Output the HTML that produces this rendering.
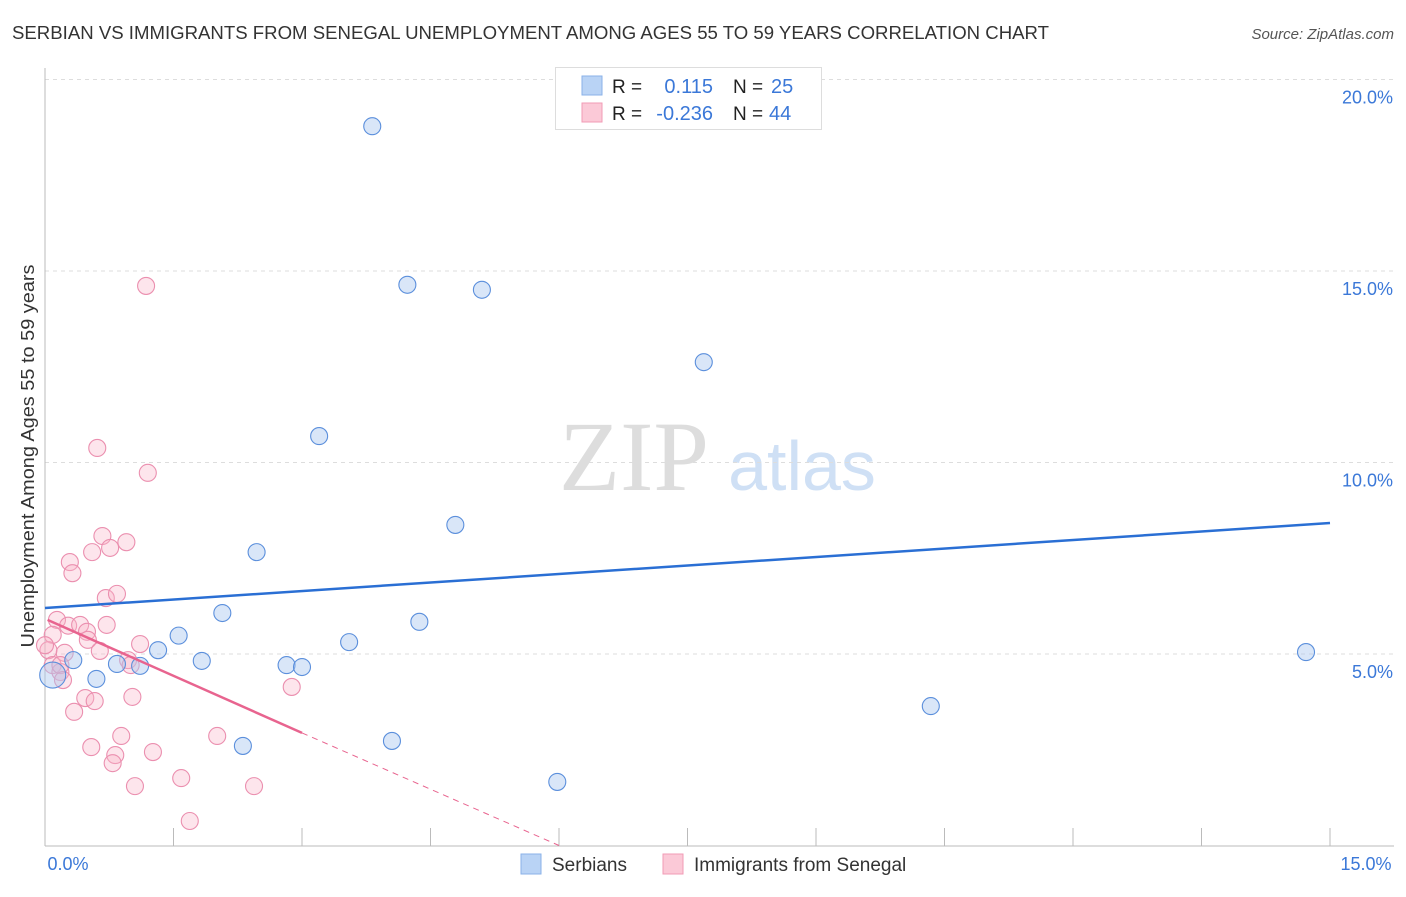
<!DOCTYPE html>
<html><head><meta charset="utf-8"><style>
body{margin:0;background:#fff;font-family:"Liberation Sans",sans-serif}
</style></head><body>
<svg id="c" width="1406" height="892" xmlns="http://www.w3.org/2000/svg">
<text x="12" y="39" font-size="18" fill="#333" textLength="1037" lengthAdjust="spacingAndGlyphs">SERBIAN VS IMMIGRANTS FROM SENEGAL UNEMPLOYMENT AMONG AGES 55 TO 59 YEARS CORRELATION CHART</text>
<text x="1394" y="39" font-size="15" fill="#555" font-style="italic" text-anchor="end">Source: ZipAtlas.com</text>
<text x="634" y="490" font-size="100" fill="#ddd" font-family="Liberation Serif,serif" text-anchor="middle">ZIP</text>
<text x="802" y="490" font-size="70" fill="#cfe0f5" text-anchor="middle">atlas</text>
<text transform="translate(34,456) rotate(-90)" font-size="18" fill="#333" text-anchor="middle" textLength="383" lengthAdjust="spacingAndGlyphs">Unemployment Among Ages 55 to 59 years</text>
<g id="grid"></g><g id="pts"></g><g id="trend"></g>
<g>
<rect x="555.5" y="67.5" width="266" height="62" fill="#fff" stroke="#ddd"/>
<rect x="582" y="76" width="20" height="19" fill="#b9d3f5" stroke="#8ab2e8"/>
<rect x="582" y="103" width="20" height="19" fill="#fbc9d7" stroke="#f19bb5"/>
<text x="612" y="93" font-size="19" fill="#222">R =</text><text x="713" y="93" font-size="20" fill="#3b78d8" text-anchor="end">0.115</text>
<text x="733" y="93" font-size="19" fill="#222">N =</text><text x="771" y="93" font-size="20" fill="#3b78d8">25</text>
<text x="612" y="120" font-size="19" fill="#222">R =</text><text x="713" y="120" font-size="20" fill="#3b78d8" text-anchor="end">-0.236</text>
<text x="733" y="120" font-size="19" fill="#222">N =</text><text x="769" y="120" font-size="20" fill="#3b78d8">44</text>
</g>
<g>
<rect x="521" y="854" width="20" height="20" fill="#b9d3f5" stroke="#8ab2e8"/>
<text x="552" y="871" font-size="19" fill="#333">Serbians</text>
<rect x="663" y="854" width="20" height="20" fill="#fbc9d7" stroke="#f19bb5"/>
<text x="694" y="871" font-size="19" fill="#333">Immigrants from Senegal</text>
</g>
</svg>
<script>
const blueX=[3.82,4.23,5.10,7.69,3.20,4.79,2.47,2.07,4.37,1.56,3.55,1.32,0.33,0.84,1.11,1.83,2.82,3.00,0.60,14.72,10.34,2.31,4.05,5.98,0.09];
const blueY=[18.78,14.64,14.51,12.62,10.69,8.37,7.66,6.07,5.84,5.48,5.31,5.10,4.84,4.74,4.69,4.82,4.71,4.66,4.35,5.05,3.64,2.60,2.73,1.66,4.45];
const pinkX=[1.18,0.61,1.20,0.67,0.95,0.76,0.29,0.55,0.32,0.71,0.84,0.14,0.27,0.41,0.72,0.49,0.09,0.50,1.11,0.64,0.23,0.97,0.04,0.09,0.18,1.00,2.88,0.47,0.58,1.02,0.34,0.89,2.01,0.54,1.26,0.82,0.79,1.59,1.05,2.44,1.69,0.18,0.21,0.0];
const pinkY=[14.61,10.38,9.73,8.08,7.92,7.77,7.40,7.66,7.11,6.46,6.57,5.89,5.74,5.76,5.76,5.58,5.50,5.37,5.26,5.08,5.03,4.84,5.10,4.71,4.53,4.71,4.14,3.85,3.77,3.88,3.49,2.86,2.86,2.57,2.44,2.36,2.15,1.76,1.55,1.55,0.64,4.71,4.32,5.23];
const yTicks=[5,10,15,20];
const yTickLabels=["5.0%","10.0%","15.0%","20.0%"];
const xTicks=[0,1.5,3,4.5,6,7.5,9,10.5,12,13.5,15];
const blueTrend=[[0,6.20],[15,8.42]];
const pinkTrend=[[0.03,5.89],[3.0,2.94]];
const pinkDash=[[3.0,2.94],[6.0,0]];
const NS="http://www.w3.org/2000/svg";
const X=v=>45+v/15*1285, Y=v=>845.5-v*38.3;
function mk(p,t,a){const e=document.createElementNS(NS,t);for(const k in a)e.setAttribute(k,a[k]);p.appendChild(e);return e;}
const g=document.getElementById('grid'),pts=document.getElementById('pts'),tr=document.getElementById('trend');
yTicks.forEach((v,i)=>{
 const l=mk(g,'line',{x1:45,x2:1394,y1:Y(v),y2:Y(v),stroke:'#ddd','stroke-dasharray':'4,4'});
 
 
 const t=mk(g,'text',{x:1393,y:Y(v)+24,'font-size':18,fill:'#3b78d8','text-anchor':'end'});t.textContent=yTickLabels[i];
 
 
});
const ax=mk(g,'line',{x1:45,x2:45,y1:68,y2:846,stroke:'#bbb'});


const bx=mk(g,'line',{x1:45,x2:1394,y1:846,y2:846,stroke:'#bbb'});


xTicks.forEach(v=>{const t=mk(g,'line',{x1:X(v),x2:X(v),y1:828,y2:846,stroke:'#bbb'});
 
 });
[[0,'0.0%',68],[15,'15.0%',1366]].forEach(a=>{const t=mk(g,'text',{x:a[2],y:870,'font-size':18,fill:'#3b78d8','text-anchor':'middle'});t.textContent=a[1];
 
 });
pinkX.forEach((v,i)=>{const c=mk(pts,'circle',{cx:X(v),cy:Y(pinkY[i]),r:8.5,fill:'rgba(248,180,200,0.35)',stroke:'#eb8faf','stroke-width':1.1});
 
 });
blueX.forEach((v,i)=>{const c=mk(pts,'circle',{cx:X(v),cy:Y(blueY[i]),r:i==24?13:8.5,fill:'rgba(170,200,240,0.45)',stroke:'#5b8fdc','stroke-width':1.1});
 
 });
const b=mk(tr,'line',{x1:X(blueTrend[0][0]),y1:Y(blueTrend[0][1]),x2:X(blueTrend[1][0]),y2:Y(blueTrend[1][1]),stroke:'#2a6fd4','stroke-width':2.5});


const p=mk(tr,'line',{x1:X(pinkTrend[0][0]),y1:Y(pinkTrend[0][1]),x2:X(pinkTrend[1][0]),y2:Y(pinkTrend[1][1]),stroke:'#e8648f','stroke-width':2.5});


const d=mk(tr,'line',{x1:X(pinkDash[0][0]),y1:Y(pinkDash[0][1]),x2:X(pinkDash[1][0]),y2:Y(pinkDash[1][1]),stroke:'#e8648f','stroke-width':1,'stroke-dasharray':'6,5'});


</script>
</body></html>
